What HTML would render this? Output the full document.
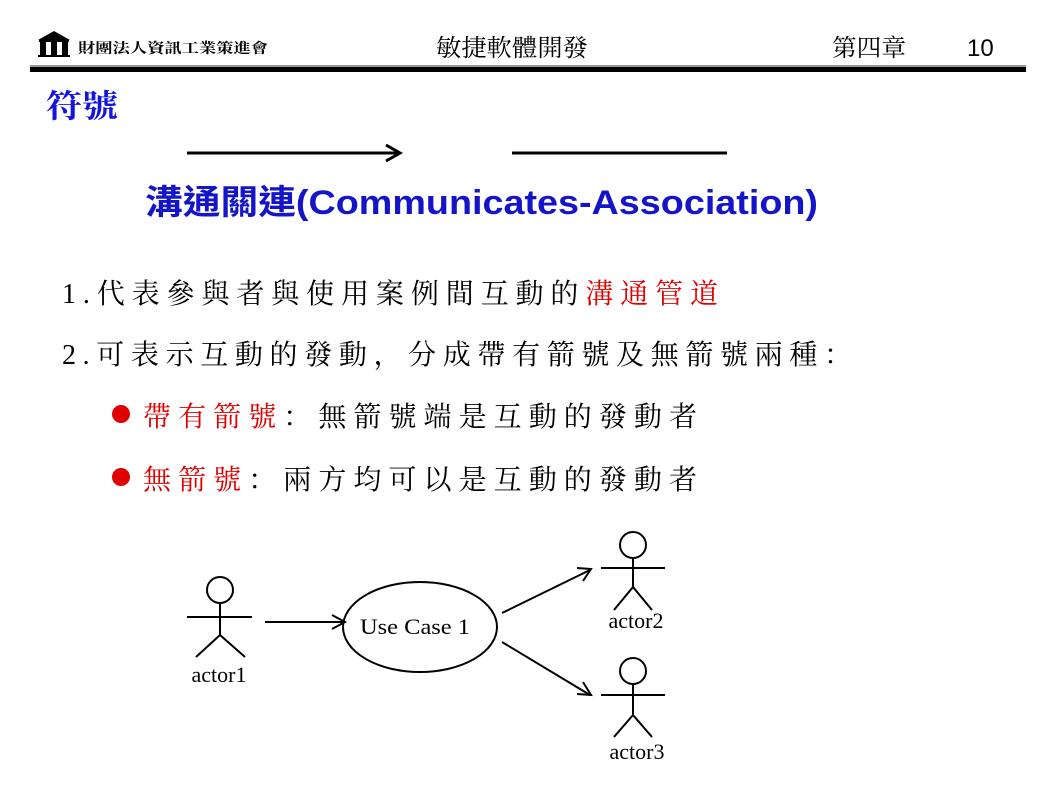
<!DOCTYPE html>
<html><head><meta charset="utf-8"><style>
body{margin:0;background:#fff;width:1060px;height:805px;overflow:hidden}
svg{display:block}
.cj{font-family:"Liberation Serif","Noto Serif CJK SC","Noto Sans CJK TC",serif}
</style></head><body>
<svg width="1060" height="805" viewBox="0 0 1060 805">
<!-- header -->
<g fill="#000">
<polygon points="38,40 54,31 70,40"/>
<rect x="39" y="40" width="30" height="2"/>
<rect x="40" y="42" width="6" height="14"/><rect x="51" y="42" width="6" height="14"/><rect x="62" y="42" width="6" height="14"/>
<rect x="38" y="55" width="32" height="2"/>
</g>
<text x="78" y="53" font-size="14" font-weight="bold" class="cj" textLength="190" lengthAdjust="spacingAndGlyphs">財團法人資訊工業策進會</text>
<text x="436" y="56" font-size="24" class="cj" textLength="152" lengthAdjust="spacingAndGlyphs">敏捷軟體開發</text>
<text x="832" y="56" font-size="24" class="cj" textLength="74" lengthAdjust="spacingAndGlyphs">第四章</text>
<text x="967" y="56" font-size="24" font-family="Liberation Sans,sans-serif">10</text>
<rect x="30" y="65" width="996" height="2" fill="#999"/>
<rect x="30" y="67" width="996" height="5" fill="#000"/>
<text x="46" y="117" font-size="32" font-weight="bold" fill="#1414e0" class="cj" textLength="72" lengthAdjust="spacingAndGlyphs">符號</text>
<!-- symbol lines -->
<line x1="187" y1="153" x2="398" y2="153" stroke="#000" stroke-width="3"/>
<polyline points="386,145 400,153 386,161" fill="none" stroke="#000" stroke-width="3"/>
<line x1="512" y1="153" x2="727" y2="153" stroke="#000" stroke-width="3"/>
<text x="145" y="214" font-size="34" font-weight="bold" fill="#1414c8" font-family="Liberation Sans,'Noto Sans CJK TC',sans-serif" textLength="673" lengthAdjust="spacingAndGlyphs">溝通關連(Communicates-Association)</text>
<!-- body text -->
<text x="62" y="303" font-size="28" class="cj" textLength="656" lengthAdjust="spacing">1.代表參與者與使用案例間互動的<tspan fill="#e00000">溝通管道</tspan></text>
<text x="62" y="364" font-size="28" class="cj" textLength="790" lengthAdjust="spacing">2.可表示互動的發動，分成帶有箭號及無箭號兩種：</text>
<circle cx="121" cy="414" r="9" fill="#e00000"/>
<text x="143" y="426" font-size="28" class="cj" textLength="554" lengthAdjust="spacing"><tspan fill="#e00000">帶有箭號</tspan>：無箭號端是互動的發動者</text>
<circle cx="121" cy="477" r="9" fill="#e00000"/>
<text x="143" y="489" font-size="28" class="cj" textLength="554" lengthAdjust="spacing"><tspan fill="#e00000">無箭號</tspan>：兩方均可以是互動的發動者</text>
<!-- diagram -->
<g fill="none" stroke="#000" stroke-width="2">
<circle cx="220" cy="590" r="13"/>
<line x1="187" y1="617" x2="252" y2="617"/><line x1="220" y1="603" x2="220" y2="635"/>
<polyline points="196,657 220,635 245,657"/>
<line x1="265" y1="622" x2="344" y2="622"/><polyline points="332,615 345,622 332,629"/>
<ellipse cx="420" cy="627" rx="77" ry="45"/>
<line x1="502" y1="613" x2="590" y2="570"/><polyline points="577,568 591,569 583,581"/>
<line x1="502" y1="642" x2="590" y2="695"/><polyline points="583,682 591,695 577,694"/>
<circle cx="633" cy="545" r="13"/>
<line x1="601" y1="568" x2="665" y2="568"/><line x1="633" y1="558" x2="633" y2="587"/>
<polyline points="614,610 633,587 652,610"/>
<circle cx="633" cy="671" r="13"/>
<line x1="601" y1="695" x2="665" y2="695"/><line x1="633" y1="684" x2="633" y2="715"/>
<polyline points="614,737 633,715 652,737"/>
</g>
<g font-family="Liberation Serif,serif" font-size="22" text-anchor="middle">
<text x="219" y="682">actor1</text>
<text x="415" y="634" textLength="110" lengthAdjust="spacingAndGlyphs">Use Case 1</text>
<text x="636" y="628">actor2</text>
<text x="637" y="759">actor3</text>
</g>
</svg>
</body></html>
